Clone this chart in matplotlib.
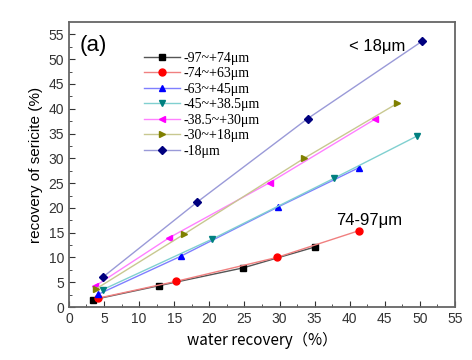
import matplotlib.pyplot as plt

# size fractions and measured points (water recovery %, sericite recovery %)
labels = ["-97~+74μm", "-74~+63μm", "-63~+45μm", "-45~+38.5μm",
          "-38.5~+30μm", "-30~+18μm", "-18μm"]

x_97 = [3.5, 12.8, 24.8, 35.0]
y_97 = [1.5, 4.3, 7.9, 12.1]
x_74 = [4.2, 15.3, 29.6, 41.3]
y_74 = [1.8, 5.2, 10.0, 15.4]
x_63 = [4.2, 16.0, 29.8, 41.3]
y_63 = [2.6, 10.3, 20.2, 28.1]
x_45 = [4.8, 20.4, 37.8, 49.6]
y_45 = [3.5, 13.7, 26.0, 34.5]
x_38 = [3.7, 14.3, 28.6, 43.6]
y_38 = [4.2, 14.0, 25.1, 37.9]
x_30 = [3.9, 16.4, 33.5, 46.8]
y_30 = [3.7, 14.7, 30.0, 41.1]
x_18 = [4.8, 18.2, 34.0, 50.3]
y_18 = [6.0, 21.1, 38.0, 53.6]

xs = [x_97, x_74, x_63, x_45, x_38, x_30, x_18]
ys = [y_97, y_74, y_63, y_45, y_38, y_30, y_18]
markers = ["s", "o", "^", "v", "<", ">", "D"]
mcolors = ["black", "red", "blue", "#008080", "magenta", "#808000", "#00007f"]
lcolors = ["#555555", "#f08080", "#7f7fff", "#80d0d0", "#ff80ff", "#c8c890", "#9a9ad8"]

fig = plt.figure(figsize=(4.72, 3.6), dpi=100)
ax = fig.add_axes([0.146, 0.147, 0.818, 0.792])

for x, y, lab, m, mc, lc in zip(xs, ys, labels, markers, mcolors, lcolors):
    ax.plot(x, y, color=lc, lw=1.0, marker=m, ms=5 if m != "D" else 4.5,
            markerfacecolor=mc, markeredgecolor=mc, label=lab)

ax.set_xlim(0, 55)
ax.set_ylim(0, 57.5)
ax.set_xticks(range(0, 56, 5))
ax.set_yticks(range(0, 56, 5))
ax.set_xticks([i + 2.5 for i in range(0, 55, 5)], minor=True)
ax.set_yticks([i + 2.5 for i in range(0, 55, 5)], minor=True)
ax.tick_params(which="both", direction="in", top=False, right=False, labelsize=10, colors="#333333")
ax.tick_params(which="major", length=4)
ax.tick_params(which="minor", length=2.5)
for s in ax.spines.values():
    s.set_color("#666666")
    s.set_linewidth(1.3)

ax.set_xlabel("water recovery（%）", fontsize=11, family=["Noto Sans CJK SC", "DejaVu Sans"])
ax.set_ylabel("recovery of sericite (%)", fontsize=11, family="Liberation Sans")
for t in ax.get_xticklabels() + ax.get_yticklabels():
    t.set_family("Liberation Sans")

ax.text(0.028, 0.955, "(a)", transform=ax.transAxes, fontsize=16, va="top",
        family="Liberation Sans")
ax.text(39.9, 51.6, "< 18μm", fontsize=12, va="baseline", family="Liberation Sans")
ax.text(38.1, 16.6, "74-97μm", fontsize=12, va="baseline", family="Liberation Sans")

ax.legend(loc="upper left", bbox_to_anchor=(0.17, 0.93), frameon=False,
          prop={"family": "Liberation Serif", "size": 10}, handlelength=2.6,
          labelspacing=0.18, borderpad=0.2, handletextpad=0.2)

fig.savefig("out.png", dpi=100)
